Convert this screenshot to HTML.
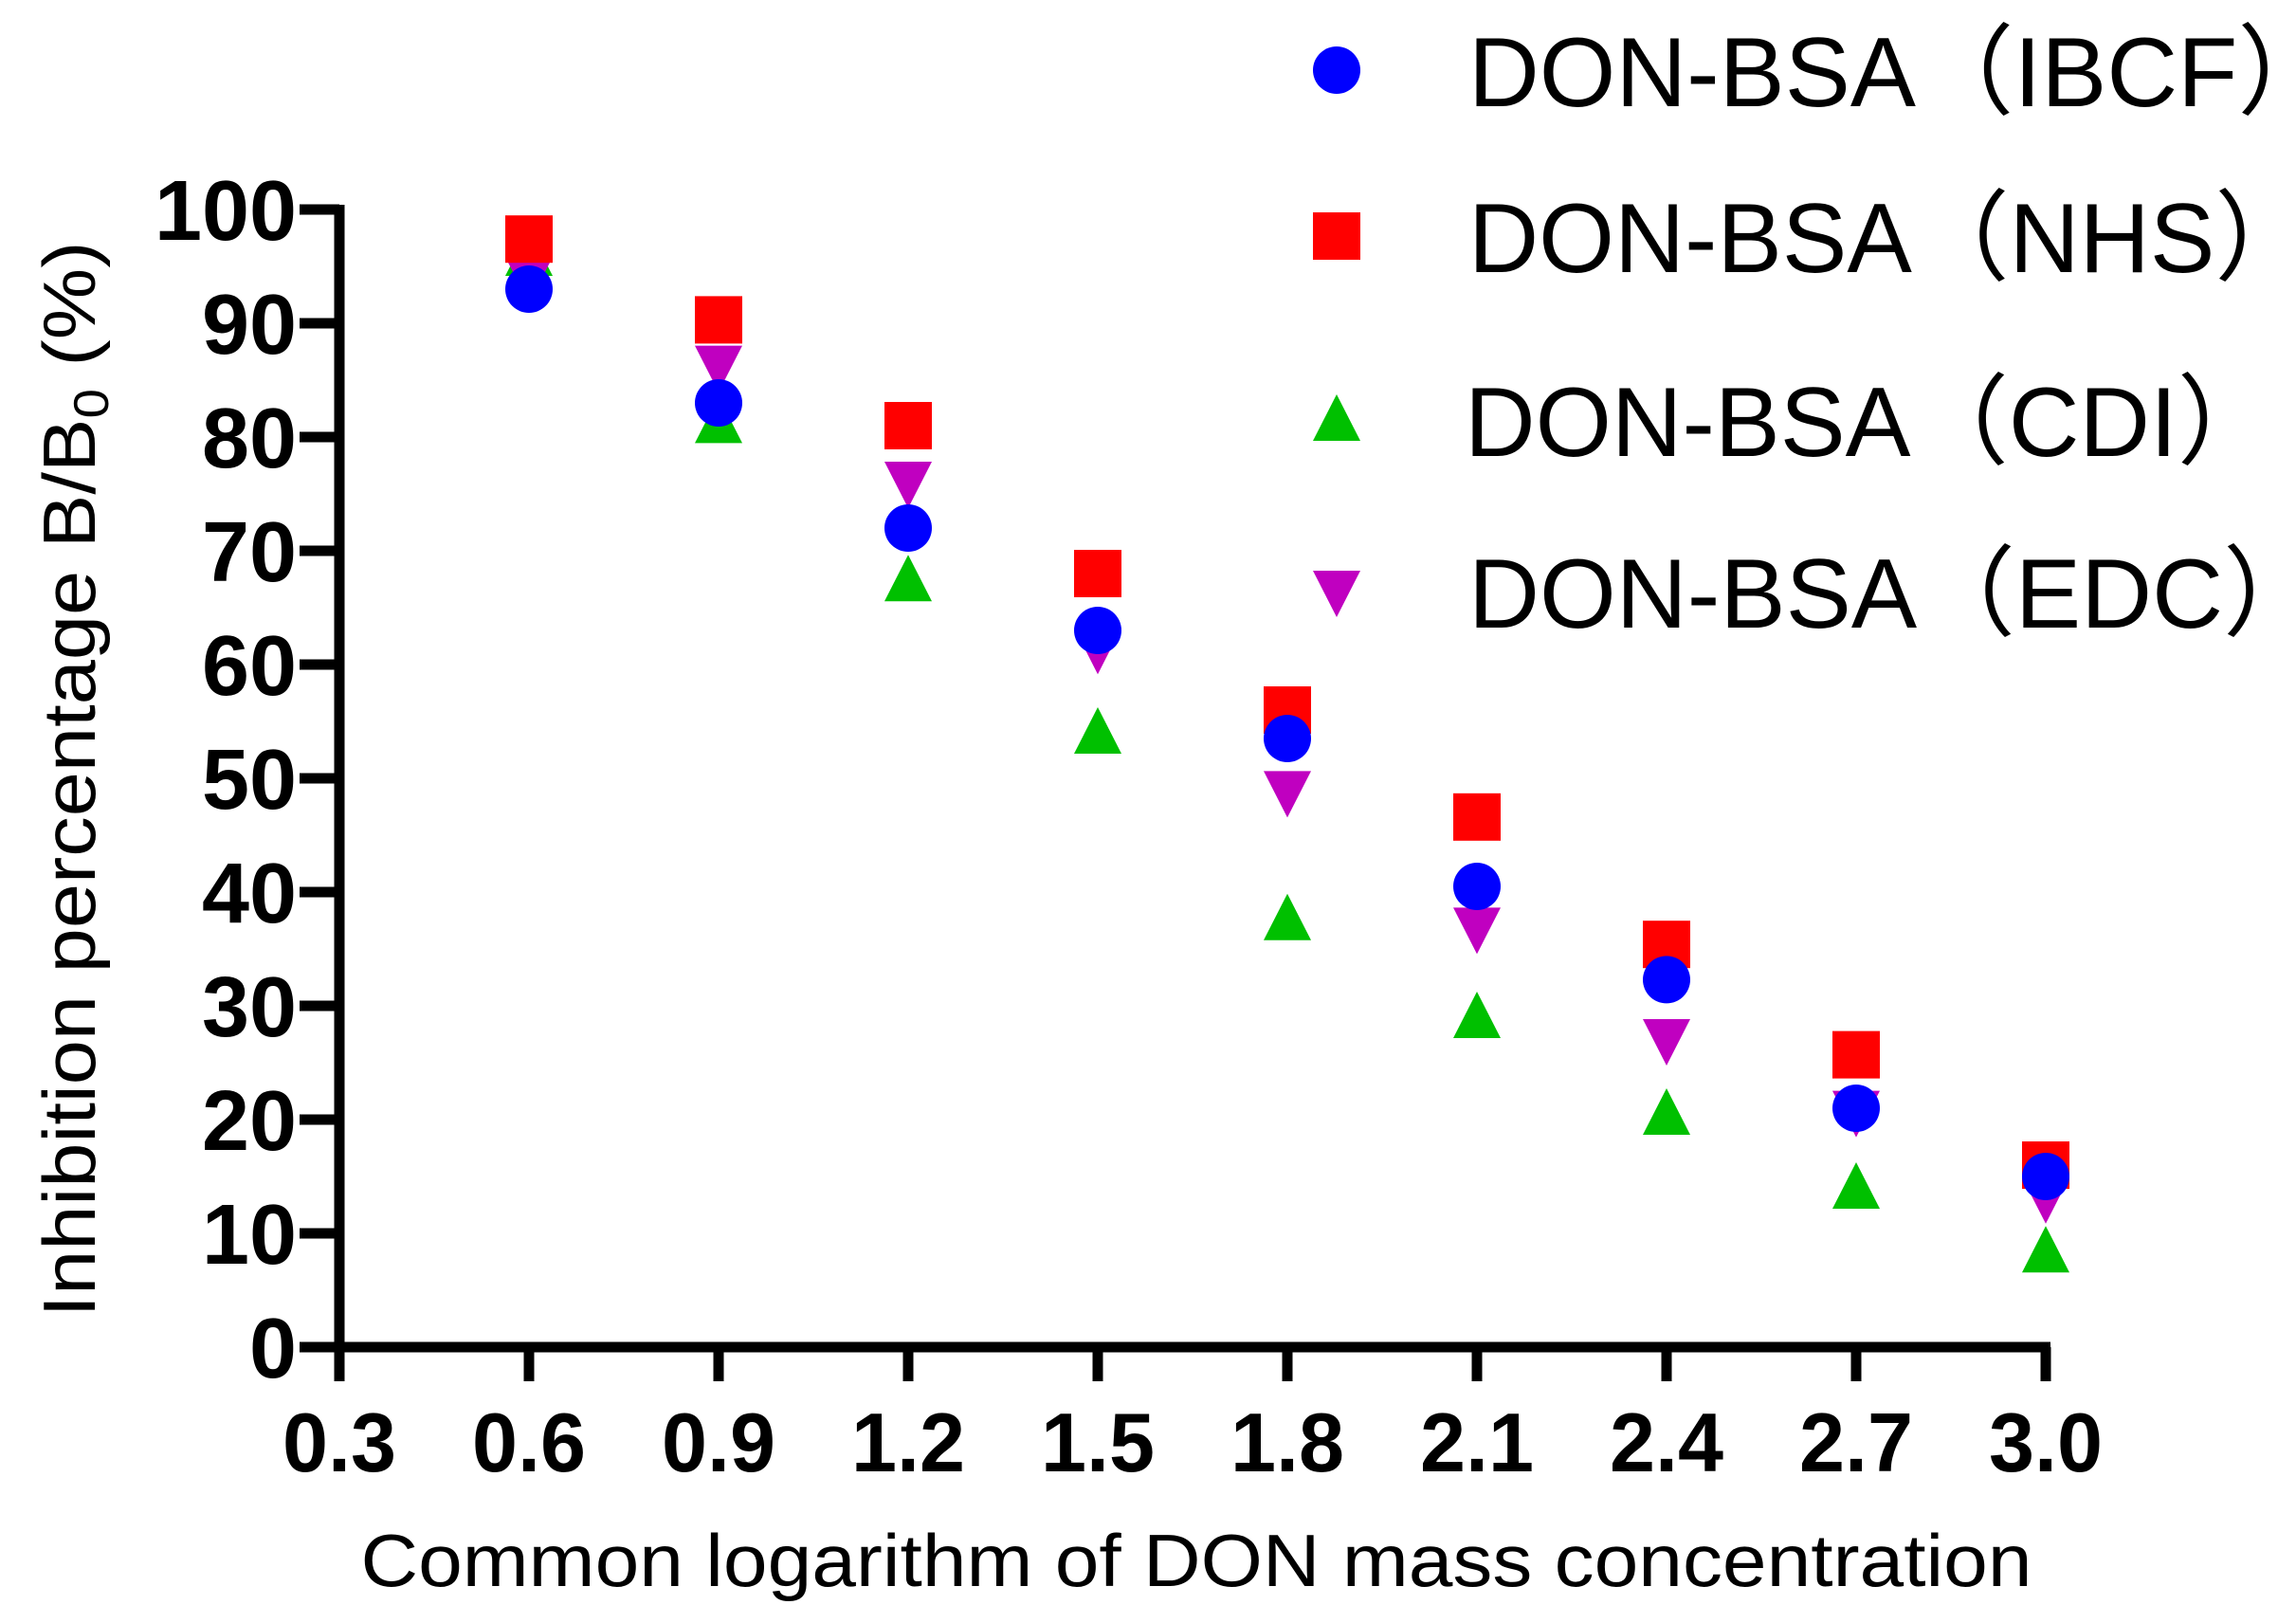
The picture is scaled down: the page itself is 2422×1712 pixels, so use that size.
<!DOCTYPE html>
<html><head><meta charset="utf-8"><style>
html,body{margin:0;padding:0;background:#fff;}
svg{display:block;}
</style></head><body>
<svg id="chart" width="2422" height="1712" viewBox="0 0 2422 1712" xmlns="http://www.w3.org/2000/svg">
<g id="axes"></g>
<g id="marks"></g>
<g id="legend"></g>
</svg>
<script>
const xCategories = [0.6, 0.9, 1.2, 1.5, 1.8, 2.1, 2.4, 2.7, 3.0];
const ibcfValues = [93, 83, 72, 63, 53.5, 40.5, 32.3, 21, 15];
const nhsValues = [97.4, 90.3, 81, 68, 56, 46.6, 35.4, 25.7, 16];
const cdiValues = [96, 81.3, 67.4, 54, 37.6, 29, 20.5, 14, 8.4];
const edcValues = [94, 86.2, 76, 61.4, 48.8, 36.8, 27, 20.7, 13.1];
const xTickLabels = ["0.3","0.6","0.9","1.2","1.5","1.8","2.1","2.4","2.7","3.0"];
const yTickLabels = ["0","10","20","30","40","50","60","70","80","90","100"];
const legendLabels = ["DON-BSA（IBCF）","DON-BSA（NHS）","DON-BSA（CDI）","DON-BSA（EDC）"];

const NS="http://www.w3.org/2000/svg";
const X0=358, X1=2158, Y0=1421, Y1=221;
function xs(v){return X0+(v-0.3)/(3.0-0.3)*(X1-X0);}
function ys(v){return Y0-(v/100)*(Y0-Y1);}
function mk(tag,attrs,parent,text){const e=document.createElementNS(NS,tag);for(const k in attrs)e.setAttribute(k,attrs[k]);if(text!==undefined)e.textContent=text;parent.appendChild(e);return e;}

const axes=document.getElementById('axes');
let e;
e=mk('line',{x1:X0,y1:Y1-5,x2:X0,y2:Y0+36,stroke:'#000','stroke-width':11},axes);


e=mk('line',{x1:316,y1:Y0,x2:X1+5,y2:Y0,stroke:'#000','stroke-width':11},axes);


yTickLabels.forEach(function(l){
  const v=parseFloat(l);const y=ys(v);
  const t=mk('line',{x1:316,y1:y,x2:X0,y2:y,stroke:'#000','stroke-width':11},axes);
  
  
  const w=l.length*50;
  const tx=mk('text',{x:313,y:y+32,'text-anchor':'end','font-family':'Liberation Sans, sans-serif','font-weight':'bold','font-size':90,textLength:w,lengthAdjust:'spacingAndGlyphs'},axes,l);
  
  
});
xTickLabels.forEach(function(l){
  const x=xs(parseFloat(l));
  const t=mk('line',{x1:x,y1:Y0,x2:x,y2:Y0+36,stroke:'#000','stroke-width':11},axes);
  
  
  const tx=mk('text',{x:x,y:1552,'text-anchor':'middle','font-family':'Liberation Sans, sans-serif','font-weight':'bold','font-size':88,textLength:120,lengthAdjust:'spacingAndGlyphs'},axes,l);
  
  
});
e=mk('text',{x:1262,y:1673,'text-anchor':'middle','font-family':'Liberation Sans, sans-serif','font-size':78,textLength:1763,lengthAdjust:'spacingAndGlyphs'},axes,'Common logarithm of DON mass concentration');


e=mk('text',{x:0,y:0,transform:'translate(100,822) rotate(-90)','text-anchor':'middle','font-family':'Liberation Sans, sans-serif','font-size':78},axes);


e.innerHTML='Inhibition percentage B/B<tspan font-size="52" dy="14">0</tspan><tspan dy="-14"> (%)</tspan>';
e.setAttribute('textLength',1135);
e.setAttribute('lengthAdjust','spacingAndGlyphs');

const marks=document.getElementById('marks');
function drawMarker(type,cx,cy,parent){
  let m;
  if(type==='circle') m=mk('circle',{cx:cx,cy:cy,r:25,fill:'#0000ff'},parent);
  else if(type==='square') m=mk('rect',{x:cx-25,y:cy-25,width:50,height:50,fill:'#ff0000'},parent);
  else if(type==='up') m=mk('polygon',{points:(cx)+','+(cy-27)+' '+(cx-25)+','+(cy+22)+' '+(cx+25)+','+(cy+22),fill:'#00c000'},parent);
  else m=mk('polygon',{points:(cx-25)+','+(cy-22)+' '+(cx+25)+','+(cy-22)+' '+(cx)+','+(cy+27),fill:'#c000c0'},parent);
  return m;
}
const seriesList=[[cdiValues,'up','cdi'],[edcValues,'down','edc'],[nhsValues,'square','nhs'],[ibcfValues,'circle','ibcf']];
seriesList.forEach(function(s){
  const g=mk('g',{},marks);
  
  
  s[0].forEach(function(v,i){
    const m=drawMarker(s[1],xs(xCategories[i]),ys(v),g);
    
    
  });
});

const legend=document.getElementById('legend');
const legendTypes=['circle','square','up','down'];
const legendY=[74,249,443,624];
const legendW=[915,890,855,900];
const legendX=[1549,1549,1545,1549];
legendLabels.forEach(function(l,i){
  const g=mk('g',{},legend);
  
  
  const m=drawMarker(legendTypes[i],1410,legendY[i],g);
  
  
  const t=mk('text',{x:legendX[i],y:legendY[i]+38,'font-family':'Liberation Sans, Noto Sans CJK SC, sans-serif','font-size':104,textLength:legendW[i],lengthAdjust:'spacingAndGlyphs'},g,l);
  
  
});
</script>
</body></html>
